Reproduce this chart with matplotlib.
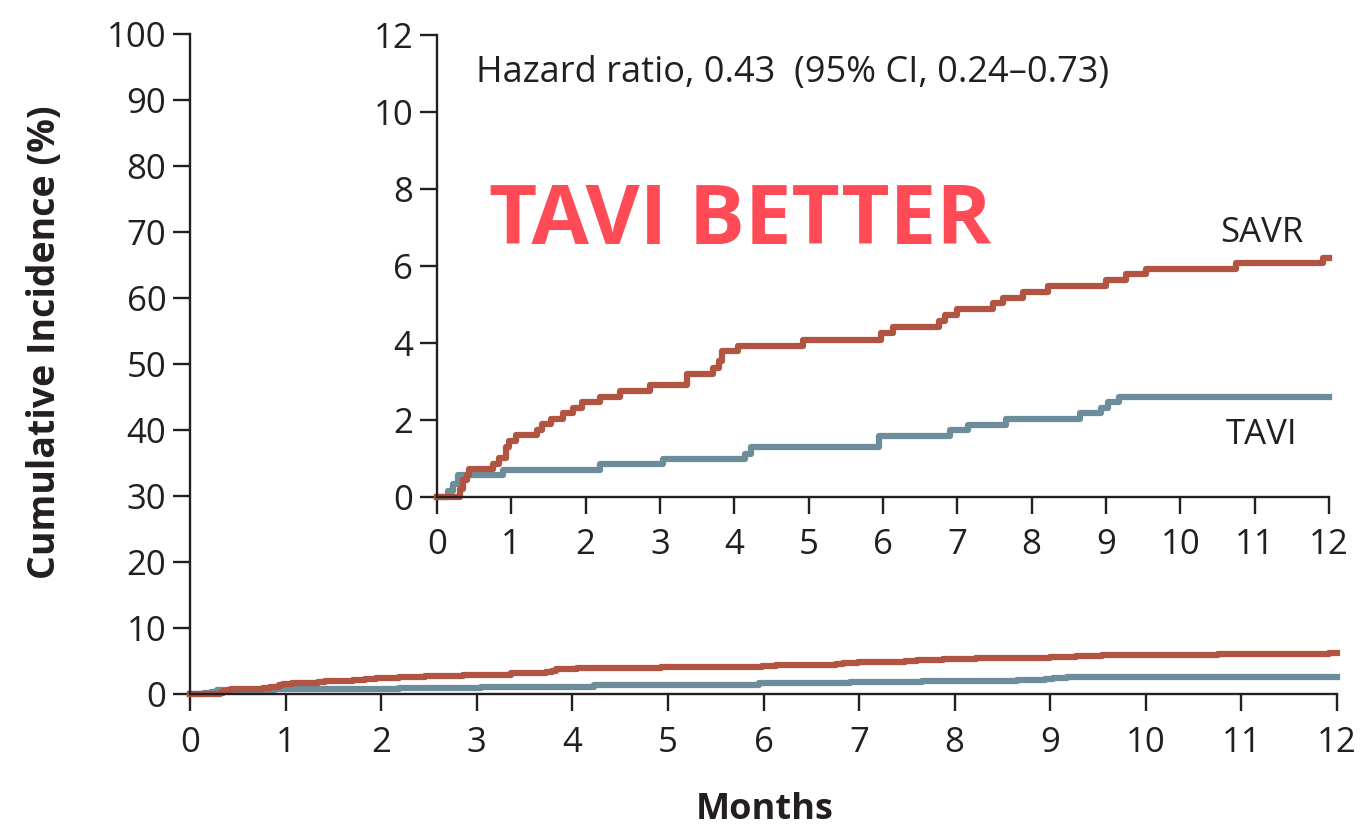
import matplotlib
matplotlib.use('Agg')
import matplotlib.pyplot as plt

# Kaplan-Meier style cumulative incidence (%)
savr_months = [0, 0.31, 0.35, 0.40, 0.43, 0.76, 0.84, 0.93, 0.97, 1.07, 1.34, 1.41,
               1.54, 1.70, 1.83, 1.95, 2.19, 2.46, 2.86, 3.36, 3.72, 3.79, 3.83,
               4.05, 4.93, 5.98, 6.13, 6.76, 6.83, 6.99, 7.48, 7.61, 7.88, 8.22,
               9.00, 9.27, 9.54, 10.75, 11.92, 12]
savr_pct = [0, 0.20, 0.43, 0.58, 0.72, 0.87, 1.01, 1.30, 1.46, 1.60, 1.74, 1.89,
            2.03, 2.17, 2.32, 2.46, 2.61, 2.75, 2.90, 3.20, 3.35, 3.52, 3.78,
            3.92, 4.08, 4.26, 4.42, 4.58, 4.73, 4.88, 5.03, 5.18, 5.33, 5.48,
            5.64, 5.78, 5.92, 6.07, 6.22, 6.22]

tavi_months = [0, 0.15, 0.22, 0.28, 0.89, 2.19, 3.04, 4.14, 4.23, 5.95, 6.90, 7.14,
               7.66, 8.65, 8.94, 9.03, 9.18, 12]
tavi_pct = [0, 0.15, 0.35, 0.56, 0.70, 0.86, 0.99, 1.13, 1.29, 1.59, 1.74, 1.87,
            2.02, 2.17, 2.32, 2.47, 2.60, 2.60]

x_ticks = list(range(0, 13))
main_y_ticks = list(range(0, 101, 10))
inset_y_ticks = list(range(0, 13, 2))

savr_color = '#b25442'
tavi_color = '#6d8d9b'
ink = '#231f20'

plt.rcParams['font.family'] = ['Open Sans', 'DejaVu Sans']
plt.rcParams['text.color'] = ink

fig = plt.figure(figsize=(13.65, 8.31), dpi=100)


def style_axes(ax, yticks, xpad, ypad):
    for side in ('top', 'right'):
        ax.spines[side].set_visible(False)
    for side in ('left', 'bottom'):
        ax.spines[side].set_linewidth(1.7)
        ax.spines[side].set_color(ink)
    ax.set_xticks(x_ticks)
    ax.set_yticks(yticks)
    ax.tick_params(axis='both', length=12, width=1.7, color=ink,
                   labelsize=25, labelcolor=ink)
    ax.tick_params(axis='x', pad=xpad)
    ax.tick_params(axis='y', pad=ypad)


# main axes
ax = fig.add_axes([0.1392, 0.1649, 0.8403, 0.7942])
ax.step(tavi_months, tavi_pct, where='post', color=tavi_color, lw=4.5, clip_on=False)
ax.step(savr_months, savr_pct, where='post', color=savr_color, lw=4.5, clip_on=False)
ax.set_xlim(0, 12)
ax.set_ylim(0, 100)
style_axes(ax, main_y_ticks, 11, 5)

# inset
ins = fig.add_axes([0.3201, 0.4019, 0.6535, 0.5560])
ins.patch.set_alpha(0)
ins.step(tavi_months, tavi_pct, where='post', color=tavi_color, lw=4.5, clip_on=False)
ins.step(savr_months, savr_pct, where='post', color=savr_color, lw=4.5, clip_on=False)
ins.set_xlim(0, 12)
ins.set_ylim(0, 12)
style_axes(ins, inset_y_ticks, 10, 5)

ins.text(0.52, 11.0, 'Hazard ratio, 0.43  (95% CI, 0.24\u20130.73)', fontsize=26,
         va='center', ha='left')
ins.text(4.08, 7.14, 'TAVI BETTER', fontsize=60, fontweight='bold',
         color='#ff4b55', ha='center', va='center')
ins.text(11.1, 6.86, 'SAVR', fontsize=25, ha='center', va='center')
ins.text(11.1, 1.61, 'TAVI', fontsize=25, ha='center', va='center')

fig.text(0.033, 0.588, 'Cumulative Incidence (%)', rotation=90, fontsize=27,
         fontweight='bold', ha='center', va='center')
fig.text(0.56, 0.025, 'Months', fontsize=26, fontweight='bold',
         ha='center', va='center')

fig.savefig('out.png', dpi=100)
